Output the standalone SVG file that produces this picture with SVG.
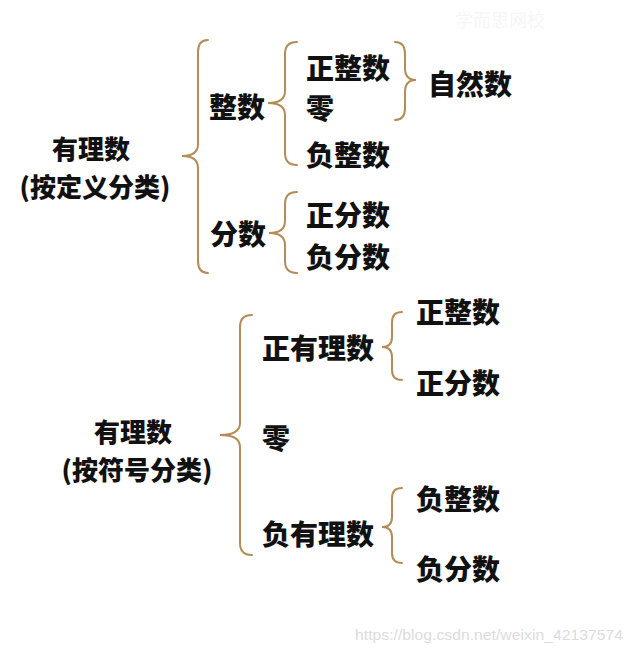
<svg xmlns="http://www.w3.org/2000/svg" width="632" height="652" viewBox="0 0 632 652">
<style>
.t{font-family:"Noto Sans CJK SC","Noto Sans",sans-serif;font-weight:900;fill:#111;dominant-baseline:central}
.n{font-size:28px}
.r{font-size:26px;text-anchor:middle}
.b{fill:none;stroke:#b58b57;stroke-width:2;stroke-linecap:round}
.wm{font-family:"Liberation Sans",Arial,sans-serif;font-size:15px;fill:#dcdcdc}
.wm2{font-family:"Noto Sans CJK SC",serif;font-size:18px;fill:#f6f6f6}
</style>
<rect width="632" height="652" fill="#fff"/>
<text class="wm2" x="455" y="27">学而思网校</text>
<g id="connectors">
<path class="b" d="M208,40 Q198,40 198,52 L198,144 Q198,156 182,156 Q198,156 198,168 L198,261 Q198,273 208,273"/>
<path class="b" d="M297,42 Q285,42 285,54 L285,91 Q285,103 268,103 Q285,103 285,115 L285,153 Q285,165 297,165"/>
<path class="b" d="M395,42 Q405,42 405,54 L405,68 Q405,80 416,80 Q405,80 405,92 L405,108 Q405,120 395,120"/>
<path class="b" d="M297,192 Q285,192 285,204 L285,221 Q285,233 269,233 Q285,233 285,245 L285,261 Q285,273 297,273"/>
<path class="b" d="M252,315 Q240,315 240,327 L240,423 Q240,435 220,435 Q240,435 240,447 L240,543 Q240,555 252,555"/>
<path class="b" d="M402,312 Q392,312 392,322 L392,337 Q392,347 382,347 Q392,347 392,357 L392,370 Q392,380 402,380"/>
<path class="b" d="M402,488 Q392,488 392,498 L392,517 Q392,527 382,527 Q392,527 392,537 L392,553 Q392,563 402,563"/>
</g>
<g id="root1"><text class="t r" x="91" y="147">有理数</text><text class="t r" x="95" y="185">(按定义分类)</text></g>
<g id="zhengshu"><text class="t n" x="209" y="106">整数</text></g>
<g id="fenshu"><text class="t n" x="210" y="233">分数</text></g>
<g id="zhengzhengshu1"><text class="t n" x="306" y="67">正整数</text></g>
<g id="ling1"><text class="t n" x="306" y="107">零</text></g>
<g id="fuzhengshu1"><text class="t n" x="306" y="154">负整数</text></g>
<g id="ziranshu"><text class="t n" x="428" y="83">自然数</text></g>
<g id="zhengfenshu1"><text class="t n" x="306" y="214">正分数</text></g>
<g id="fufenshu1"><text class="t n" x="306" y="256">负分数</text></g>
<g id="root2"><text class="t r" x="133" y="430">有理数</text><text class="t r" x="137" y="468">(按符号分类)</text></g>
<g id="zhengyouli"><text class="t n" x="262" y="347">正有理数</text></g>
<g id="ling2"><text class="t n" x="262" y="437">零</text></g>
<g id="fuyouli"><text class="t n" x="262" y="533">负有理数</text></g>
<g id="zhengzhengshu2"><text class="t n" x="416" y="311">正整数</text></g>
<g id="zhengfenshu2"><text class="t n" x="416" y="382">正分数</text></g>
<g id="fuzhengshu2"><text class="t n" x="416" y="498">负整数</text></g>
<g id="fufenshu2"><text class="t n" x="416" y="568">负分数</text></g>
<text class="wm" x="355" y="640" textLength="268" lengthAdjust="spacingAndGlyphs">https://blog.csdn.net/weixin_42137574</text>
</svg>
